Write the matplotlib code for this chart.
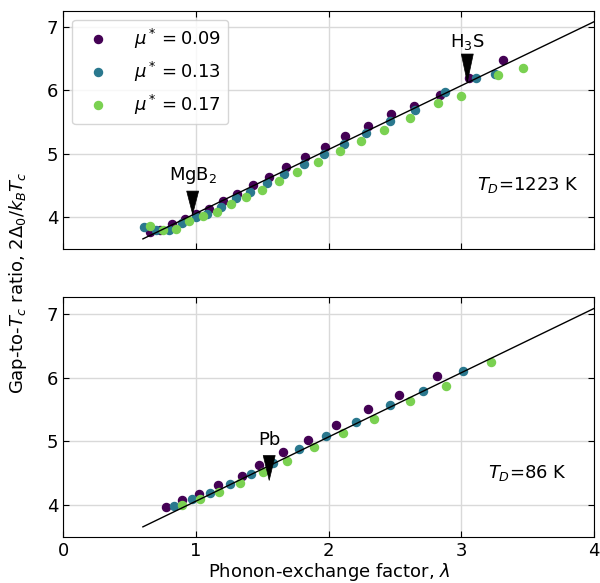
import numpy as np
import matplotlib
matplotlib.use("Agg")
import matplotlib.pyplot as plt

# values
# top panel, T_D = 1223 K
lam_top_009 = [0.655, 0.73, 0.818, 0.914, 1.0, 1.098, 1.207, 1.311, 1.428, 1.547, 1.682,
               1.822, 1.972, 2.122, 2.296, 2.473, 2.641, 2.836, 3.061, 3.315]
gap_top_009 = [3.767, 3.80, 3.887, 3.977, 4.05, 4.135, 4.256, 4.371, 4.513, 4.634, 4.792,
               4.950, 5.107, 5.276, 5.433, 5.633, 5.749, 5.922, 6.201, 6.485]
lam_top_013 = [0.605, 0.701, 0.800, 0.896, 1.000, 1.085, 1.189, 1.298, 1.409, 1.534,
               1.666, 1.811, 1.962, 2.117, 2.283, 2.460, 2.652, 2.880, 3.113, 3.253]
gap_top_013 = [3.845, 3.803, 3.803, 3.908, 4.003, 4.056, 4.161, 4.298, 4.392, 4.540,
               4.676, 4.844, 4.997, 5.160, 5.328, 5.512, 5.686, 5.970, 6.196, 6.264]
lam_top_017 = [0.655, 0.748, 0.852, 0.950, 1.051, 1.155, 1.264, 1.378, 1.500, 1.627,
               1.765, 1.920, 2.084, 2.247, 2.418, 2.612, 2.825, 2.999, 3.274, 3.466]
gap_top_017 = [3.856, 3.793, 3.819, 3.940, 4.014, 4.077, 4.213, 4.313, 4.429, 4.566,
               4.713, 4.876, 5.049, 5.197, 5.375, 5.565, 5.801, 5.906, 6.238, 6.348]

# bottom panel, T_D = 86 K
lam_bot_009 = [0.774, 0.896, 1.025, 1.163, 1.344, 1.474, 1.656, 1.848, 2.058, 2.296, 2.532, 2.817]
gap_bot_009 = [3.972, 4.077, 4.171, 4.308, 4.461, 4.629, 4.823, 5.023, 5.249, 5.502, 5.724, 6.027]
lam_bot_013 = [0.836, 0.969, 1.108, 1.254, 1.414, 1.583, 1.780, 1.980, 2.206, 2.460, 2.711, 3.012]
gap_bot_013 = [3.982, 4.087, 4.187, 4.329, 4.482, 4.660, 4.871, 5.081, 5.302, 5.575, 5.796, 6.101]
lam_bot_017 = [0.893, 1.031, 1.176, 1.332, 1.507, 1.684, 1.889, 2.107, 2.343, 2.612, 2.882, 3.227]
gap_bot_017 = [4.003, 4.098, 4.203, 4.345, 4.513, 4.692, 4.907, 5.123, 5.354, 5.628, 5.875, 6.248]

# straight reference line
line_lam = [0.6, 4.0]
line_gap = [3.655, 7.085]

mu_labels = [r"$\mu^* = 0.09$", r"$\mu^* = 0.13$", r"$\mu^* = 0.17$"]

# markers: name, lambda, tip ratio, top of triangle, text baseline
top_marks = [("MgB$_2$", 0.975, 4.045, 4.41, 4.585), ("H$_3$S", 3.045, 6.13, 6.575, 6.68)]
bot_marks = [("Pb", 1.552, 4.385, 4.775, 4.934)]

colors = [plt.cm.viridis(v) for v in (0.0, 0.4, 0.8)]
fs = 13

fig = plt.figure(figsize=(6.0, 5.83), dpi=100)
ax1 = fig.add_axes([0.1055, 0.5734, 0.8845, 0.4083])
ax2 = fig.add_axes([0.1055, 0.0794, 0.8845, 0.4106])


def draw_panel(ax, series, marks, td_text):
    for (lx, gy), c, lab in zip(series, colors, mu_labels):
        ax.plot(lx, gy, "o", ls="none", ms=5.8, color=c, label=lab, zorder=3)
    ax.plot(line_lam, line_gap, color="k", lw=1.0, zorder=4)
    for name, lx, tip, top, base in marks:
        ax.annotate("", xy=(lx, tip), xytext=(lx, top),
                    arrowprops=dict(arrowstyle="wedge,tail_width=0.86,shrink_factor=0.5",
                                    fc="k", ec="k", lw=0.5, shrinkA=0, shrinkB=0,
                                    mutation_scale=10), zorder=5)
        ax.text(lx, base, name, ha="center", va="baseline", fontsize=fs, zorder=5)
    ax.text(3.5, 4.5, td_text, ha="center", va="center", fontsize=fs)
    ax.set_xlim(0, 4)
    ax.set_ylim(3.5, 7.26)
    ax.set_xticks([0, 1, 2, 3, 4])
    ax.set_yticks([4, 5, 6, 7])
    ax.grid(True, color="#d9d9d9", lw=1.0, zorder=0)
    ax.set_axisbelow(True)
    ax.tick_params(direction="in", top=True, right=True, labelsize=fs, length=4)


draw_panel(ax1, [(lam_top_009, gap_top_009), (lam_top_013, gap_top_013), (lam_top_017, gap_top_017)],
           top_marks, r"$T_D$=1223 K")
draw_panel(ax2, [(lam_bot_009, gap_bot_009), (lam_bot_013, gap_bot_013), (lam_bot_017, gap_bot_017)],
           bot_marks, r"$T_D$=86 K")

ax1.tick_params(labelbottom=False)
ax1.legend(loc="upper left", fontsize=fs, handletextpad=1.0)

ax2.set_xlabel(r"Phonon-exchange factor, $\lambda$", fontsize=fs, labelpad=1.0)
fig.text(0.03, 0.515, r"Gap-to-$T_c$ ratio, $2\Delta_0/k_BT_c$", rotation=90,
         ha="center", va="center", fontsize=fs)

fig.savefig("out.png", dpi=100)
